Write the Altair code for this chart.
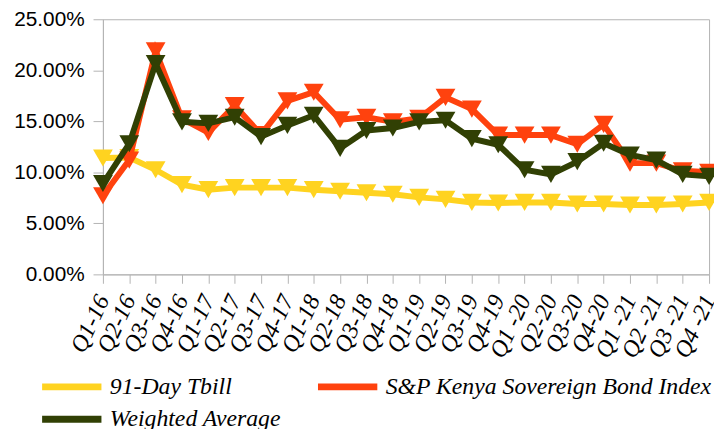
import altair as alt
import pandas as pd

quarters = ["Q1-16", "Q2-16", "Q3-16", "Q4-16", "Q1-17", "Q2-17", "Q3-17", "Q4-17",
            "Q1-18", "Q2-18", "Q3-18", "Q4-18", "Q1-19", "Q2-19", "Q3-19", "Q4-19",
            "Q1 -20", "Q2-20", "Q3-20", "Q4-20", "Q1 -21", "Q2 -21", "Q3 -21", "Q4 -21"]

tbill = [11.4, 11.45, 10.25, 8.8, 8.3, 8.5, 8.5, 8.5, 8.3, 8.15, 8.0, 7.85,
         7.55, 7.35, 7.05, 7.0, 7.05, 7.05, 6.9, 6.9, 6.8, 6.8, 6.9, 7.05]
sp_index = [7.7, 11.2, 21.9, 15.25, 13.9, 16.55, 13.7, 17.0, 17.85, 15.15, 15.4, 14.95,
            15.3, 17.35, 16.2, 13.65, 13.65, 13.65, 12.75, 14.7, 10.9, 10.9, 10.15, 10.0]
weighted = [8.9, 12.8, 20.65, 14.95, 14.8, 15.4, 13.5, 14.6, 15.6, 12.35, 14.1, 14.35,
            14.95, 15.1, 13.3, 12.7, 10.25, 9.8, 11.05, 12.85, 11.7, 11.2, 9.8, 9.6]

series_names = ["91-Day Tbill", "S&P Kenya Sovereign Bond Index", "Weighted Average"]
series_values = [tbill, sp_index, weighted]
series_colors = ["#ffd320", "#ff420e", "#314004"]

rows = []
for name, vals in zip(series_names, series_values):
    for q, v in zip(quarters, vals):
        rows.append({"quarter": q, "series": name, "value": v / 100.0})
df = pd.DataFrame(rows)

grey = "#b3b3b3"

x_enc = alt.X("quarter:N", sort=quarters, scale=alt.Scale(type="point", padding=0),
              axis=alt.Axis(title=None, labelAngle=-65, labelFont="Liberation Serif",
                            labelFontStyle="italic", labelFontSize=24, labelColor="#000000",
                            tickSize=9, labelPadding=13, domainColor=grey, tickColor=grey,
                            grid=False, labelOverlap=False))
y_enc = alt.Y("value:Q", scale=alt.Scale(domain=[0, 0.25], nice=False),
              axis=alt.Axis(title=None, format=".2%", values=[0, 0.05, 0.10, 0.15, 0.20, 0.25],
                            labelFont="Liberation Sans", labelFontSize=21, labelColor="#000000",
                            tickSize=10, labelPadding=9, domainColor=grey, tickColor=grey,
                            grid=False))
color_enc = alt.Color("series:N", scale=alt.Scale(domain=series_names, range=series_colors),
                      legend=alt.Legend(title=None, orient="none", legendX=-47, legendY=356,
                                        direction="horizontal",
                                        columns=2, columnPadding=22, rowPadding=3,
                                        symbolType="M-2.5,0H2.5", symbolSize=576,
                                        symbolStrokeWidth=7, labelOffset=23,
                                        labelFont="Liberation Serif", labelFontStyle="italic",
                                        labelFontSize=24, labelColor="#000000", labelLimit=400))

layers = []
for name in series_names:
    layers.append(
        alt.Chart(df).transform_filter(alt.datum.series == name).mark_line(
            strokeWidth=6,
            point=alt.OverlayMarkDef(shape="triangle-down", size=400, filled=True, opacity=1),
        ).encode(x=x_enc, y=y_enc, color=color_enc)
    )

chart = alt.layer(*layers).properties(
    width=613, height=258,
    autosize=alt.AutoSizeParams(type="none"),
    padding={"left": 96, "top": 9, "right": 5, "bottom": 156},
).configure_view(stroke=grey, strokeWidth=1)

chart.save("out.html", embed_options={"renderer": "svg", "actions": False})
